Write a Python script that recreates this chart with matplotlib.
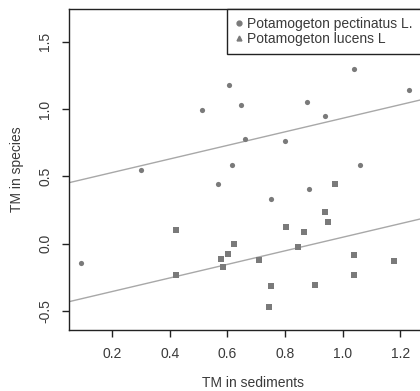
import matplotlib
matplotlib.use("Agg")
import matplotlib.pyplot as plt
from matplotlib.lines import Line2D

# Potamogeton pectinatus L. (circles)
pect_x = [0.093, 0.302, 0.511, 0.566, 0.607, 0.615, 0.647, 0.663, 0.751, 0.800,
          0.875, 0.882, 0.938, 1.038, 1.060, 1.232]
pect_y = [-0.143, 0.550, 0.991, 0.441, 1.181, 0.582, 1.030, 0.776, 0.330, 0.765,
          1.055, 0.406, 0.951, 1.300, 0.582, 1.142]

# Potamogeton lucens L (squares)
luc_x = [0.423, 0.423, 0.579, 0.584, 0.603, 0.623, 0.709, 0.744, 0.751, 0.802,
         0.845, 0.867, 0.904, 0.940, 0.948, 0.974, 1.038, 1.038, 1.177]
luc_y = [0.104, -0.235, -0.111, -0.175, -0.079, 0.000, -0.124, -0.468, -0.317, 0.124,
         -0.022, 0.085, -0.307, 0.238, 0.161, 0.441, -0.084, -0.233, -0.129]

# parallel fitted lines (common slope)
slope = 0.504
int_pect = 0.428
int_luc = -0.456

xticks = [0.2, 0.4, 0.6, 0.8, 1.0, 1.2]
yticks = [-0.5, 0.0, 0.5, 1.0, 1.5]

plt.rcParams['font.family'] = ['Liberation Sans', 'DejaVu Sans']

fig = plt.figure(figsize=(4.2, 3.91), dpi=100)
# right edge of the plot box lies outside the picture, as in the original crop
ax = fig.add_axes([0.164, 0.156, 0.878, 0.821])

pt_col = "#7a7a7a"
txt_col = "#3a3a3a"
ax.scatter(pect_x, pect_y, marker="o", s=14, color=pt_col, linewidths=0, zorder=3)
ax.scatter(luc_x, luc_y, marker="s", s=22, color=pt_col, linewidths=0, zorder=3)

ax.axline((0, int_pect), slope=slope, color="#a8a8a8", lw=1.0, zorder=2)
ax.axline((0, int_luc), slope=slope, color="#a8a8a8", lw=1.0, zorder=2)

ax.set_xlim(0.05, 1.33)
ax.set_ylim(-0.641, 1.744)
ax.set_xticks(xticks)
ax.set_xticklabels([f"{v:.1f}" for v in xticks])
ax.set_yticks(yticks)
ax.set_yticklabels([f"{v:.1f}" for v in yticks], rotation=90, va="center")

for s in ax.spines.values():
    s.set_linewidth(1.0)
    s.set_color("#222222")
ax.tick_params(direction="out", length=5, width=1, color="#222222",
               labelsize=10, labelcolor=txt_col, pad=7)

ax.set_xlabel("TM in sediments", fontsize=10, color=txt_col, labelpad=11)
ax.set_ylabel("TM in species", fontsize=10, color=txt_col, labelpad=10)

handles = [
    Line2D([], [], marker="o", ls="none", color=pt_col, markersize=3.5),
    Line2D([], [], marker="^", ls="none", color=pt_col, markersize=3.5),
]
leg = ax.legend(handles, ["Potamogeton pectinatus L.", "Potamogeton lucens L"],
                loc="upper left", bbox_to_anchor=(0.4295, 1), borderaxespad=0,
                fancybox=False, framealpha=1, edgecolor="#222222",
                fontsize=10, handlelength=0.5, handletextpad=0.3,
                labelspacing=0.05, borderpad=0.6, labelcolor=txt_col)
leg.get_frame().set_linewidth(1.0)

fig.savefig("out.png", dpi=100)
